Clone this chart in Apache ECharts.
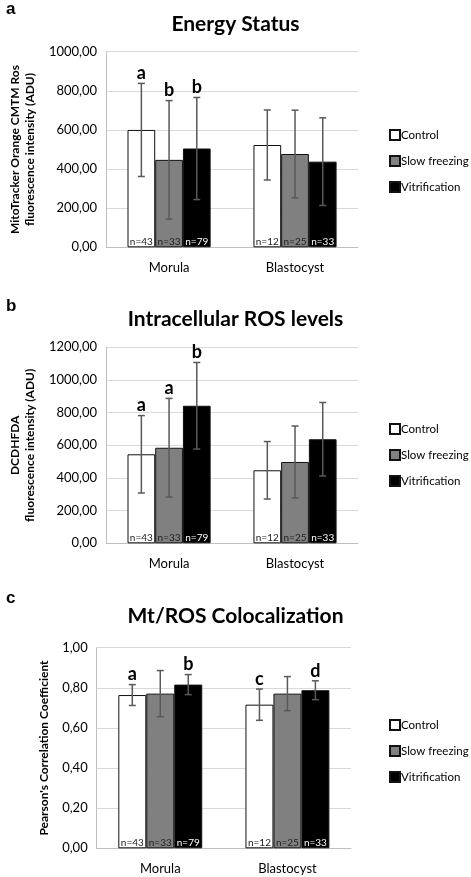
<!DOCTYPE html>
<html><head><meta charset="utf-8">
<script src="https://cdn.jsdelivr.net/npm/echarts@6/dist/echarts.min.js"></script>
<style>html,body{margin:0;padding:0;background:#fff}#c{width:471px;height:877px}</style>
</head><body><div id="c"></div>
<script>
// ---- data ----
const categories = ['Morula', 'Blastocyst'];
const treatments = ['Control', 'Slow freezing', 'Vitrification'];
const nCounts = [[43, 12], [33, 25], [79, 33]];

// Panel a: Energy Status (per treatment: [Morula, Blastocyst])
const energyMean = [[600, 523], [447, 477], [505, 438]];
const energySD = [[238, 179], [303, 224], [261, 224]];
const energyLetters = [['a', ''], ['b', ''], ['b', '']];
const energyTicks = [0, 200, 400, 600, 800, 1000];

// Panel b: Intracellular ROS levels
const rosMean = [[545, 447], [585, 498], [842, 637]];
const rosSD = [[237, 176], [302, 220], [265, 225]];
const rosLetters = [['a', ''], ['a', ''], ['b', '']];
const rosTicks = [0, 200, 400, 600, 800, 1000, 1200];

// Panel c: Mt/ROS Colocalization
const colocMean = [[0.764, 0.716], [0.771, 0.771], [0.816, 0.788]];
const colocSD = [[0.052, 0.078], [0.115, 0.085], [0.050, 0.047]];
const colocLetters = [['a', 'c'], ['', ''], ['b', 'd']];
const colocTicks = [0, 0.2, 0.4, 0.6, 0.8, 1.0];

// ---- styling ----
const FONT = 'Lato';
const barColors = ['#ffffff', '#808080', '#000000'];
const nColors = ['#222', '#222', '#fff'];
const GAP = 0.34;

const panels = [
  {title: 'Energy Status', letter: 'a', letterTop: -4, titleTop: 9,
   grid: {left: 104, top: 51.7, width: 254, height: 195.6},
   mean: energyMean, sd: energySD, letters: energyLetters, ticks: energyTicks,
   yName: 'MitoTracker Orange CMTM Ros\nfluorescence intensity (ADU)', nameGap: 61, legendTop: 122},
  {title: 'Intracellular ROS levels', letter: 'b', letterTop: 293, titleTop: 304,
   grid: {left: 104, top: 347.3, width: 254, height: 196},
   mean: rosMean, sd: rosSD, letters: rosLetters, ticks: rosTicks,
   yName: 'DCDHFDA\nfluorescence intensity (ADU)', nameGap: 61, legendTop: 416},
  {title: 'Mt/ROS Colocalization', letter: 'c', letterTop: 585, titleTop: 601,
   grid: {left: 96.7, top: 647.7, width: 254.3, height: 200.6},
   mean: colocMean, sd: colocSD, letters: colocLetters, ticks: colocTicks,
   yName: "Pearson's Correlation Coefficient", nameGap: 44, legendTop: 712}
];

const option = {
  backgroundColor: '#fff',
  animation: false,
  textStyle: {fontFamily: FONT},
  title: [], grid: [], xAxis: [], yAxis: [], legend: [], series: []
};

panels.forEach((p, i) => {
  option.title.push({text: p.title, left: 'center', top: p.titleTop,
    textStyle: {fontFamily: FONT, fontWeight: 'bold', fontSize: 21, color: '#000'}});
  option.title.push({text: p.letter, left: 1, top: p.letterTop,
    textStyle: {fontFamily: 'Liberation Sans', fontWeight: 'bold', fontSize: 17, color: '#000'}});
  option.grid.push(p.grid);
  option.xAxis.push({type: 'category', gridIndex: i, data: categories,
    axisLine: {lineStyle: {color: '#bfbfbf'}}, axisTick: {show: false},
    axisLabel: {fontSize: 13, color: '#000', margin: 14, fontFamily: FONT}});
  const tmax = p.ticks[p.ticks.length - 1];
  option.yAxis.push({type: 'value', gridIndex: i, min: p.ticks[0], max: tmax,
    interval: p.ticks[1] - p.ticks[0],
    axisLine: {show: true, lineStyle: {color: '#bfbfbf'}}, axisTick: {show: false},
    splitLine: {lineStyle: {color: '#d9d9d9'}},
    axisLabel: {fontSize: 13, color: '#000', margin: 9, fontFamily: FONT,
      formatter: v => v.toFixed(2).replace('.', ',')},
    name: p.yName, nameLocation: 'middle', nameRotate: 90, nameGap: p.nameGap,
    nameTextStyle: {fontSize: 12, fontWeight: 'bold', color: '#000', fontFamily: FONT, lineHeight: 15}});
  option.legend.push({orient: 'vertical', left: 384, top: p.legendTop,
    data: treatments, itemWidth: 10, itemHeight: 10, itemGap: 10,
    icon: 'rect', selectedMode: false,
    textStyle: {fontSize: 11.5, color: '#000', fontFamily: FONT, lineHeight: 16, padding: [0, 0, 0, -4]}});
  treatments.forEach((t, ti) => {
    option.series.push({type: 'bar', name: t, xAxisIndex: i, yAxisIndex: i,
      data: p.mean[ti], barGap: 0, barCategoryGap: (GAP * 100) + '%',
      itemStyle: {color: barColors[ti], borderColor: '#111', borderWidth: 1},
      label: {show: true, position: 'insideBottom', distance: 1, fontSize: 10,
        fontFamily: FONT, color: nColors[ti],
        formatter: q => 'n=' + nCounts[ti][q.dataIndex]}});
  });
  const errData = [], errLetters = [];
  treatments.forEach((t, ti) => {
    categories.forEach((c, ci) => {
      errData.push([ci, ti, p.mean[ti][ci] - p.sd[ti][ci], p.mean[ti][ci] + p.sd[ti][ci]]);
      errLetters.push(p.letters[ti][ci]);
    });
  });
  option.series.push({type: 'custom', xAxisIndex: i, yAxisIndex: i, z: 5,
    data: errData, silent: true,
    renderItem: (params, api) => {
      const ci = api.value(0), ti = api.value(1);
      const lo = api.coord([ci, api.value(2)]);
      const hi = api.coord([ci, api.value(3)]);
      const band = api.size([1, 0])[0];
      const bw = band * (1 - GAP) / 3;
      const x = lo[0] + (ti - 1) * bw;
      const cap = 3.5;
      const st = {stroke: '#595959', lineWidth: 1.5};
      const ch = [
        {type: 'line', shape: {x1: x, y1: lo[1], x2: x, y2: hi[1]}, style: st},
        {type: 'line', shape: {x1: x - cap, y1: lo[1], x2: x + cap, y2: lo[1]}, style: st},
        {type: 'line', shape: {x1: x - cap, y1: hi[1], x2: x + cap, y2: hi[1]}, style: st}
      ];
      const L = errLetters[params.dataIndex];
      if (L) ch.push({type: 'text', x: x, y: hi[1] - 1,
        style: {text: L, align: 'center', verticalAlign: 'bottom',
          font: 'bold 18px ' + FONT, fill: '#000'}});
      return {type: 'group', children: ch};
    }});
});

const chart = echarts.init(document.getElementById('c'), null, {renderer: 'canvas'});
chart.setOption(option);
</script></body></html>
